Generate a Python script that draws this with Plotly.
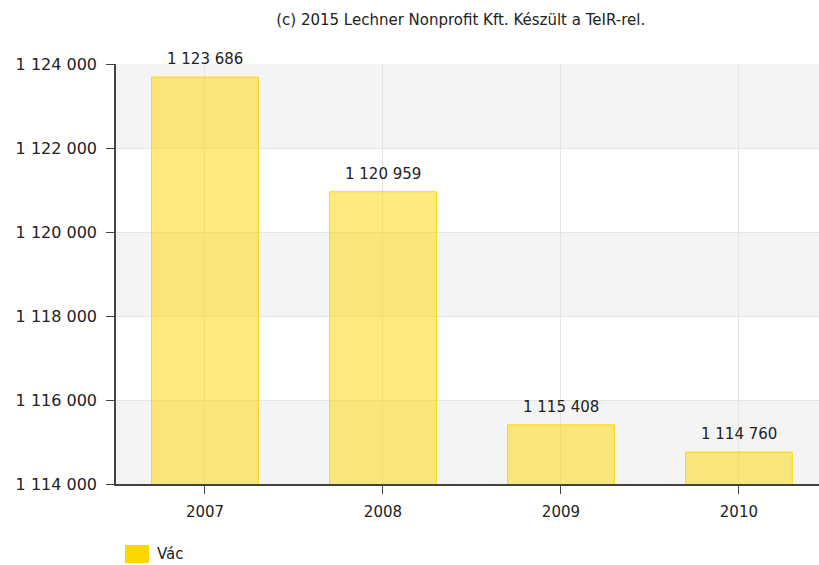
import plotly.graph_objects as go

# Population figures for Vác
years = ["2007", "2008", "2009", "2010"]
values = [1123686, 1120959, 1115408, 1114760]
series_name = "Vác"
y_ticks = [1114000, 1116000, 1118000, 1120000, 1122000, 1124000]
title_text = "(c) 2015 Lechner Nonprofit Kft. Készült a TeIR-rel."

font_family = "DejaVu Sans, Verdana, sans-serif"
text_color = "#222"


def fmt(v):
    return f"{v:,}".replace(",", " ")


fig = go.Figure()
fig.add_trace(go.Bar(
    x=years,
    y=values,
    name=series_name,
    width=0.6,
    marker=dict(color="rgba(255,213,0,0.5)", line=dict(color="#ffd700", width=1)),
    showlegend=False,
    hoverinfo="x+y",
))

# Value labels above each bar (x given as category index)
annotations = [
    dict(x=i, y=v, xref="x", yref="y", text=fmt(v), showarrow=False,
         yanchor="bottom", yshift=7,
         font=dict(size=15, color=text_color, family=font_family))
    for i, v in enumerate(values)
]

# Legend entry drawn below the plot
annotations.append(dict(x=0.055, y=-0.1667, xref="paper", yref="paper", text=series_name,
                        showarrow=False, xanchor="left", yanchor="middle",
                        font=dict(size=15, color=text_color, family=font_family)))

shapes = []
# Alternating horizontal bands
for lo, hi in [(1114000, 1116000), (1118000, 1120000), (1122000, 1124000)]:
    shapes.append(dict(type="rect", xref="paper", yref="y", x0=0, x1=1, y0=lo, y1=hi,
                       fillcolor="#f4f4f4", line=dict(width=0), layer="below"))
# Legend swatch
shapes.append(dict(type="rect", xref="paper", yref="paper",
                   x0=0.0128, x1=0.0469, y0=-0.1452, y1=-0.1881,
                   fillcolor="#ffd700", line=dict(width=0)))

fig.update_layout(
    width=819, height=565,
    margin=dict(l=116, r=0, t=64, b=81, autoexpand=False),
    paper_bgcolor="white", plot_bgcolor="white",
    separators=", ",
    shapes=shapes,
    annotations=annotations,
    showlegend=False,
    font=dict(family=font_family, color=text_color, size=15),
    title=dict(text=title_text, x=0.5625, xanchor="center", y=0.965, yanchor="middle",
               font=dict(size=15, color=text_color, family=font_family)),
    xaxis=dict(
        type="category",
        range=[-0.5, 3.45],
        showgrid=True, gridcolor="#e4e4e4", gridwidth=1,
        showline=True, linecolor="#444", linewidth=1.5,
        ticks="outside", ticklen=8, tickcolor="#444",
        ticklabelstandoff=5,
        tickfont=dict(size=15, color=text_color),
        fixedrange=True,
    ),
    yaxis=dict(
        range=[1114000, 1124000],
        tickvals=y_ticks,
        tickformat=",.0f",
        showgrid=True, gridcolor="#e4e4e4", gridwidth=1,
        showline=True, linecolor="#444", linewidth=1.5,
        ticks="outside", ticklen=8, tickcolor="#444",
        ticklabelstandoff=6,
        tickfont=dict(size=16, color=text_color),
        zeroline=False,
    ),
    bargap=0.4,
)

fig.write_html("out.html")
